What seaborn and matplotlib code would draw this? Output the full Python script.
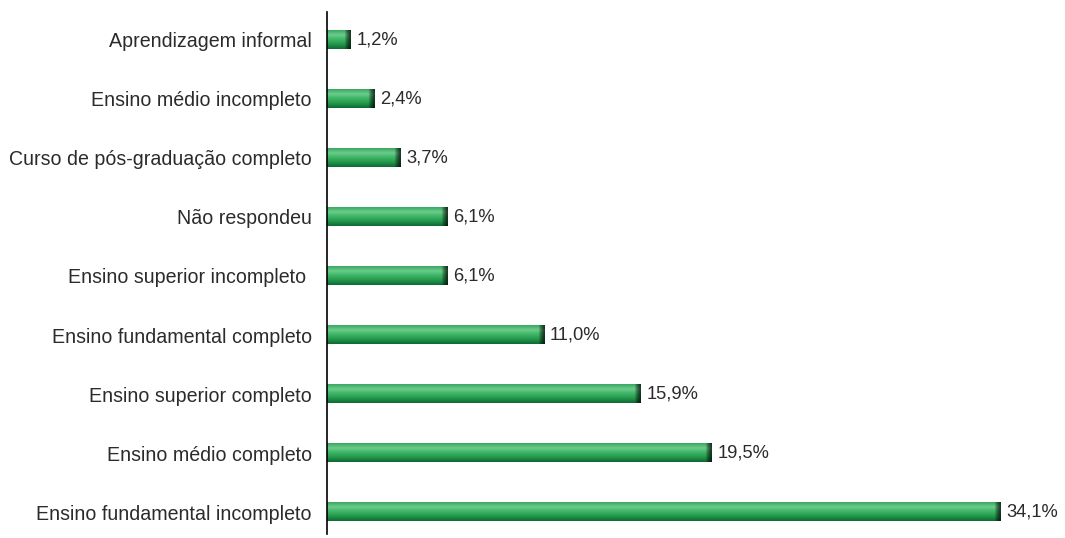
import numpy as np
import pandas as pd
import matplotlib
matplotlib.use("Agg")
import matplotlib.pyplot as plt
import seaborn as sns
from matplotlib.colors import to_rgb

categorias = [
    "Aprendizagem informal",
    "Ensino médio incompleto",
    "Curso de pós-graduação completo",
    "Não respondeu",
    "Ensino superior incompleto ",
    "Ensino fundamental completo",
    "Ensino superior completo",
    "Ensino médio completo",
    "Ensino fundamental incompleto",
]
percentuais = [1.2, 2.4, 3.7, 6.1, 6.1, 11.0, 15.9, 19.5, 34.1]
rotulos = ["1,2%", "2,4%", "3,7%", "6,1%", "6,1%", "11,0%", "15,9%", "19,5%", "34,1%"]

df = pd.DataFrame({"categoria": categorias, "valor": percentuais})

sns.set_theme(style="white")
plt.rcParams["font.family"] = ["Liberation Sans", "DejaVu Sans"]

W, H, DPI = 1065, 538, 100
fig = plt.figure(figsize=(W / DPI, H / DPI), dpi=DPI)
ax_left, ax_right = 327 / W, 1060 / W
ax_bottom, ax_top = (H - 534) / H, (H - 12) / H
ax = fig.add_axes([ax_left, ax_bottom, ax_right - ax_left, ax_top - ax_bottom])

sns.barplot(data=df, x="valor", y="categoria", orient="h", color="#2ea855",
            width=0.31, ax=ax, saturation=1)

px_per_unit = 19.74
xmax = (1060 - 327) / px_per_unit

# bevelled green fill for each bar
stops = [
    (0.00, "#3aa862"),
    (0.25, "#6ccb8c"),
    (0.45, "#43b96a"),
    (0.75, "#23984c"),
    (1.00, "#0f6a34"),
]
rows = 32
t = np.linspace(0, 1, rows)
pos = [s[0] for s in stops]
cols = np.array([to_rgb(s[1]) for s in stops])
prof = np.stack([np.interp(t, pos, cols[:, c]) for c in range(3)], axis=1)

for patch in ax.patches:
    x0, y0 = patch.get_x(), patch.get_y()
    w, h = patch.get_width(), patch.get_height()
    ncol = max(int(round(w * px_per_unit)), 4)
    img = np.repeat(prof[:, None, :], ncol, axis=1)
    # dark rounded cap at the right end
    cap = 7
    for k in range(min(cap, ncol)):
        f = (k + 1) / cap
        col = ncol - 1 - k
        shade = 0.28 + 0.72 * f ** 1.6
        img[:, col, :] = img[:, col, :] * shade
    patch.set_facecolor("none")
    patch.set_edgecolor("none")
    ax.imshow(img, extent=(x0, x0 + w, y0 + h, y0), aspect="auto",
              interpolation="bilinear", zorder=2)

for i, (v, lab) in enumerate(zip(percentuais, rotulos)):
    ax.text(v + 0.3, i, lab, va="center", ha="left", fontsize=13.2, color="#2b2b2b")

ax.set_xlabel("")
ax.set_ylabel("")
ax.set_xticks([])
ax.tick_params(axis="y", length=0, pad=11, labelsize=14.1, labelcolor="#2b2b2b")
for s in ["top", "right", "bottom"]:
    ax.spines[s].set_visible(False)
ax.spines["left"].set_color("black")
ax.spines["left"].set_linewidth(1.2)
ax.set_xlim(0, xmax)
ax.set_ylim(8.37, -0.47)

fig.savefig("out.png", dpi=DPI, facecolor="white")
